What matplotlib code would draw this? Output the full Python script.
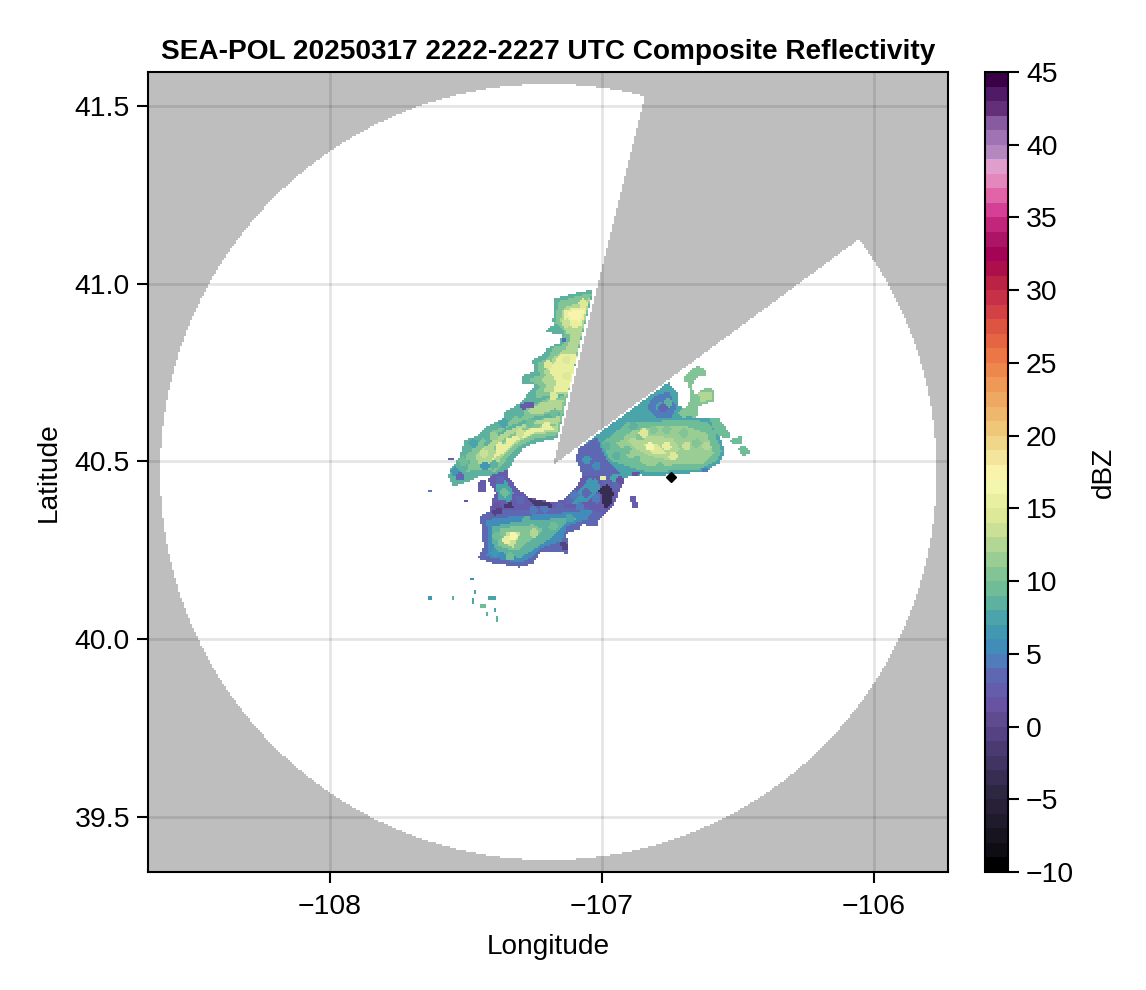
import numpy as np
import matplotlib
matplotlib.use('Agg')
import matplotlib.pyplot as plt
from matplotlib.colors import LinearSegmentedColormap, ListedColormap, Normalize
from matplotlib.path import Path

plt.rcParams['font.family'] = ['Liberation Sans', 'DejaVu Sans']

# axis limits and ticks
lon_lim = [-108.669, -105.728]
lat_lim = [39.344, 41.596]
lon_ticks = [-108, -107, -106]
lat_ticks = [39.5, 40.0, 40.5, 41.0, 41.5]
dbz_ticks = [-10, -5, 0, 5, 10, 15, 20, 25, 30, 35, 40, 45]

# radar coverage: disc minus the blocked sector
disc_lon, disc_lat = -107.197, 40.470
disc_rlon, disc_rlat = 1.427, 1.092
blocked = [(-107.180, 40.490), (-106.8125, 41.616), (-105.70, 41.62), (-105.835, 41.250)]
site_lon, site_lat = -106.746, 40.456

# colour scale (dBZ, colour)
scale_dbz = [-10, -9, -7, -5, -3, -1, 0, 1.5, 3, 4.5, 5.5, 7, 8, 9.5, 11, 12.5, 14, 15.5, 17, 18, 19, 20,
             22, 24, 26, 28, 29.5, 31, 32.5, 34, 35, 36, 37, 38, 39, 40, 41, 42, 43, 44, 45]
scale_col = ['#000000', '#0e0d14', '#1f1a2b', '#2d2640', '#3f3360', '#524080', '#5d4a8c', '#6a55a8', '#6264b0',
             '#4c80bd', '#3f8fb8', '#459fae', '#58aea0', '#70bd97', '#8fc994', '#b4d894', '#d8e597', '#e8ef9f',
             '#fbf9b6', '#f6eca3', '#f1de93', '#efd080', '#edb067', '#ee9452', '#ea6f43', '#da4f40', '#c83448',
             '#b81f44', '#a0004f', '#b0176a', '#c62a7e', '#d8439a', '#e46aaa', '#e48bbf', '#dfa0cf', '#b086bd',
             '#9f72b3', '#875aa0', '#642c78', '#4f1a66', '#3a0048']

# echo outlines, lon/lat
north_edge = [(-107.032, 40.983), (-107.093, 40.975), (-107.173, 40.959), (-107.181, 40.898), (-107.179, 40.884),
              (-107.210, 40.866), (-107.148, 40.856), (-107.154, 40.833), (-107.203, 40.819), (-107.216, 40.800),
              (-107.259, 40.786), (-107.246, 40.753), (-107.289, 40.744), (-107.295, 40.720), (-107.246, 40.716),
              (-107.301, 40.664), (-107.357, 40.640), (-107.363, 40.622), (-107.424, 40.598), (-107.461, 40.570),
              (-107.504, 40.561), (-107.522, 40.514), (-107.559, 40.476), (-107.565, 40.458), (-107.546, 40.429),
              (-107.485, 40.444), (-107.442, 40.462), (-107.406, 40.458), (-107.348, 40.470),
              (-107.320, 40.509), (-107.289, 40.537), (-107.240, 40.553), (-107.164, 40.565)]
north_mid = [(-107.038, 40.973), (-107.087, 40.966), (-107.161, 40.950), (-107.173, 40.889), (-107.142, 40.870),
             (-107.136, 40.833), (-107.185, 40.809), (-107.197, 40.791), (-107.240, 40.776), (-107.228, 40.744),
             (-107.271, 40.730), (-107.228, 40.711), (-107.252, 40.669), (-107.301, 40.640), (-107.363, 40.598),
             (-107.418, 40.580), (-107.473, 40.542), (-107.485, 40.504), (-107.497, 40.472), (-107.442, 40.476),
             (-107.393, 40.472), (-107.357, 40.500), (-107.326, 40.528), (-107.295, 40.547), (-107.246, 40.563),
             (-107.161, 40.575)]
north_upper = [(-107.044, 40.959), (-107.142, 40.931), (-107.154, 40.894), (-107.118, 40.847), (-107.130, 40.819),
               (-107.179, 40.791), (-107.216, 40.753), (-107.191, 40.730), (-107.216, 40.697), (-107.130, 40.683)]
north_arc = [(-107.154, 40.631), (-107.252, 40.612), (-107.350, 40.589), (-107.424, 40.551), (-107.467, 40.514),
             (-107.448, 40.486), (-107.393, 40.486), (-107.357, 40.523), (-107.314, 40.551), (-107.252, 40.575),
             (-107.164, 40.584)]
north_stripe = [(-107.142, 40.673), (-107.216, 40.669), (-107.277, 40.640), (-107.246, 40.631), (-107.148, 40.645)]
north_core1 = [(-107.056, 40.936), (-107.136, 40.927), (-107.142, 40.903), (-107.105, 40.875), (-107.075, 40.880)]
north_core2 = [(-107.093, 40.805), (-107.154, 40.800), (-107.197, 40.758), (-107.167, 40.725), (-107.179, 40.697),
               (-107.124, 40.697), (-107.105, 40.748)]
north_core3 = [(-107.173, 40.591), (-107.252, 40.594), (-107.326, 40.570), (-107.387, 40.533), (-107.406, 40.504),
               (-107.363, 40.523), (-107.320, 40.556), (-107.246, 40.581)]
north_peak = [(-107.063, 40.927), (-107.124, 40.922), (-107.118, 40.898), (-107.081, 40.894)]
north_hole = [(-107.301, 40.662), (-107.252, 40.669), (-107.250, 40.653), (-107.295, 40.645)]
north_dot = [(-107.148, 40.850), (-107.136, 40.850), (-107.136, 40.837), (-107.148, 40.837)]
streak_a = [(-107.154, 40.638), (-107.252, 40.625), (-107.350, 40.596), (-107.436, 40.551), (-107.430, 40.542),
            (-107.348, 40.587), (-107.250, 40.615), (-107.154, 40.628)]
streak_b = [(-107.167, 40.608), (-107.265, 40.603), (-107.338, 40.575), (-107.399, 40.537), (-107.393, 40.531),
            (-107.332, 40.568), (-107.259, 40.595), (-107.167, 40.600)]
streak_c = [(-107.136, 40.692), (-107.216, 40.683), (-107.277, 40.655), (-107.271, 40.647), (-107.213, 40.675),
            (-107.140, 40.683)]

band_edge = [(-107.418, 40.448), (-107.406, 40.462), (-107.348, 40.476), (-107.344, 40.458), (-107.314, 40.425),
             (-107.265, 40.397), (-107.179, 40.384), (-107.142, 40.392), (-107.093, 40.429), (-107.072, 40.458),
             (-107.007, 40.458), (-106.916, 40.444), (-106.944, 40.401), (-106.958, 40.373), (-107.001, 40.340),
             (-107.179, 40.354), (-107.418, 40.345), (-107.406, 40.383), (-107.393, 40.411)]
band_west = [(-107.393, 40.444), (-107.353, 40.448), (-107.326, 40.411), (-107.338, 40.387), (-107.381, 40.392)]
band_east = [(-107.081, 40.425), (-107.020, 40.453), (-107.007, 40.425), (-107.056, 40.387), (-107.130, 40.378)]
band_dark = [(-107.277, 40.397), (-107.179, 40.381), (-107.185, 40.371), (-107.246, 40.373)]
dark_east = [(-107.014, 40.420), (-106.977, 40.437), (-106.958, 40.411), (-106.968, 40.373), (-106.995, 40.368),
             (-106.998, 40.401)]
dark_west1 = [(-107.406, 40.364), (-107.369, 40.368), (-107.369, 40.354), (-107.399, 40.347)]
dark_west2 = [(-107.363, 40.381), (-107.332, 40.384), (-107.326, 40.371), (-107.357, 40.368)]
dark_south = [(-107.154, 40.270), (-107.130, 40.272), (-107.124, 40.247), (-107.148, 40.251)]
band_spot = [(-107.004, 40.461), (-106.988, 40.461), (-106.988, 40.450), (-107.004, 40.450)]

south_edge = [(-107.418, 40.359), (-107.448, 40.345), (-107.436, 40.261), (-107.455, 40.228), (-107.406, 40.214),
              (-107.301, 40.202), (-107.252, 40.214), (-107.228, 40.242), (-107.154, 40.247), (-107.124, 40.237),
              (-107.130, 40.298), (-107.087, 40.307), (-107.069, 40.322), (-107.020, 40.317), (-106.998, 40.354),
              (-107.056, 40.368), (-107.301, 40.364)]
south_a = [(-107.424, 40.336), (-107.418, 40.261), (-107.424, 40.232), (-107.301, 40.214), (-107.252, 40.232),
           (-107.228, 40.256), (-107.148, 40.275), (-107.130, 40.317), (-107.056, 40.336), (-107.032, 40.364),
           (-107.154, 40.354), (-107.301, 40.347)]
south_b = [(-107.406, 40.317), (-107.399, 40.251), (-107.301, 40.228), (-107.252, 40.251), (-107.179, 40.289),
           (-107.142, 40.322), (-107.081, 40.343), (-107.154, 40.340), (-107.301, 40.331)]
south_c = [(-107.375, 40.312), (-107.381, 40.261), (-107.314, 40.247), (-107.277, 40.270), (-107.216, 40.307),
           (-107.252, 40.322), (-107.314, 40.317)]
south_d = [(-107.348, 40.303), (-107.357, 40.270), (-107.326, 40.256), (-107.308, 40.284), (-107.295, 40.298)]

east_edge = [(-107.091, 40.534), (-106.756, 40.723), (-106.720, 40.692), (-106.720, 40.655), (-106.664, 40.647),
             (-106.662, 40.625), (-106.603, 40.622), (-106.579, 40.598), (-106.548, 40.528), (-106.566, 40.495),
             (-106.628, 40.469), (-106.738, 40.465), (-106.811, 40.456), (-106.860, 40.462), (-106.903, 40.456),
             (-106.946, 40.439), (-107.007, 40.458), (-107.069, 40.458), (-107.093, 40.500)]
east_west = [(-107.091, 40.534), (-107.020, 40.568), (-106.983, 40.504), (-106.934, 40.467), (-106.983, 40.458),
             (-107.069, 40.458), (-107.093, 40.500)]
east_a = [(-107.001, 40.551), (-106.909, 40.608), (-106.811, 40.612), (-106.701, 40.617), (-106.615, 40.612),
          (-106.591, 40.589), (-106.560, 40.528), (-106.579, 40.500), (-106.640, 40.478), (-106.738, 40.474),
          (-106.824, 40.469), (-106.885, 40.481), (-106.971, 40.504)]
east_b = [(-106.946, 40.551), (-106.885, 40.589), (-106.787, 40.598), (-106.689, 40.598), (-106.615, 40.580),
          (-106.591, 40.523), (-106.628, 40.495), (-106.738, 40.490), (-106.824, 40.486), (-106.909, 40.514)]
east_c = [(-106.909, 40.561), (-106.836, 40.575), (-106.738, 40.565), (-106.713, 40.533), (-106.750, 40.504),
          (-106.824, 40.514), (-106.873, 40.533)]
east_d = [(-106.848, 40.551), (-106.799, 40.551), (-106.762, 40.523), (-106.811, 40.519)]
east_blue = [(-106.811, 40.683), (-106.756, 40.697), (-106.726, 40.655), (-106.750, 40.619), (-106.799, 40.622),
             (-106.836, 40.650)]
east_streak = [(-106.891, 40.467), (-106.860, 40.472), (-106.860, 40.462), (-106.891, 40.459)]
east_dot = [(-106.634, 40.483), (-106.613, 40.483), (-106.613, 40.469), (-106.634, 40.469)]

finger_a = [(-106.701, 40.739), (-106.652, 40.769), (-106.615, 40.758), (-106.615, 40.744), (-106.652, 40.737),
            (-106.671, 40.711), (-106.658, 40.687), (-106.615, 40.709), (-106.585, 40.701), (-106.585, 40.669),
            (-106.646, 40.656), (-106.652, 40.622), (-106.695, 40.631), (-106.689, 40.650), (-106.674, 40.683),
            (-106.683, 40.720), (-106.701, 40.725)]
finger_core = [(-106.646, 40.697), (-106.597, 40.697), (-106.597, 40.673), (-106.640, 40.666)]
finger_b = [(-106.603, 40.622), (-106.573, 40.625), (-106.524, 40.570), (-106.548, 40.565), (-106.585, 40.578)]
finger_c = [(-106.530, 40.561), (-106.487, 40.572), (-106.483, 40.550), (-106.524, 40.548)]
finger_d = [(-106.505, 40.537), (-106.475, 40.544), (-106.448, 40.519), (-106.483, 40.517)]

frag_east = [(-106.897, 40.401), (-106.873, 40.406), (-106.870, 40.368), (-106.891, 40.371)]
frag_west = [(-107.455, 40.444), (-107.430, 40.448), (-107.426, 40.415), (-107.458, 40.411)]
frag_w2 = [(-107.637, 40.422), (-107.625, 40.422), (-107.625, 40.415), (-107.637, 40.415)]
frag_w3 = [(-107.565, 40.509), (-107.546, 40.509), (-107.546, 40.504), (-107.565, 40.504)]
frag_w4 = [(-107.504, 40.392), (-107.494, 40.392), (-107.494, 40.385), (-107.504, 40.385)]

# small scattered echoes in the south west: lon0, lon1, lat0, lat1
specks = [(-107.638, -107.626, 40.111, 40.120), (-107.553, -107.546, 40.111, 40.122),
          (-107.482, -107.474, 40.164, 40.170), (-107.471, -107.464, 40.125, 40.139),
          (-107.477, -107.468, 40.101, 40.113), (-107.418, -107.391, 40.112, 40.120),
          (-107.446, -107.426, 40.087, 40.099), (-107.430, -107.417, 40.062, 40.078),
          (-107.399, -107.390, 40.076, 40.087), (-107.392, -107.380, 40.047, 40.062)]
speck_dbz = [6.5, 8.5, 5.5, 7, 7, 7, 9, 8, 7, 8]

# patches of stronger or weaker echo inside the outlines: lon, lat, dBZ
east_patches = [(-106.983, 40.542, 8), (-106.934, 40.570, 9), (-106.885, 40.598, 8), (-106.946, 40.514, 8),
                (-106.909, 40.533, 9), (-106.860, 40.570, 10), (-106.811, 40.589, 10), (-106.762, 40.589, 10),
                (-106.701, 40.580, 10), (-106.652, 40.551, 10), (-106.713, 40.504, 11), (-106.787, 40.486, 9),
                (-106.873, 40.504, 9.5), (-106.824, 40.542, 16), (-106.762, 40.542, 15.5), (-106.689, 40.542, 13.5),
                (-106.615, 40.542, 12), (-106.848, 40.580, 14), (-106.738, 40.514, 14), (-106.787, 40.655, 7),
                (-106.756, 40.664, 8), (-106.775, 40.650, 3), (-106.726, 40.673, 7), (-106.701, 40.636, 10),
                (-107.056, 40.504, 6), (-107.063, 40.476, 3.5), (-107.020, 40.486, 5.5)]
north_patches = [(-107.069, 40.945, 14), (-107.130, 40.889, 13), (-107.093, 40.856, 12), (-107.130, 40.847, 9.5),
                 (-107.167, 40.814, 10), (-107.197, 40.772, 14), (-107.130, 40.786, 14), (-107.093, 40.786, 15),
                 (-107.203, 40.730, 12), (-107.130, 40.739, 14), (-107.179, 40.683, 14), (-107.228, 40.692, 10),
                 (-107.252, 40.673, 8), (-107.301, 40.636, 8), (-107.363, 40.608, 7), (-107.424, 40.570, 8),
                 (-107.473, 40.551, 7), (-107.485, 40.514, 10), (-107.510, 40.500, 9), (-107.540, 40.472, 6),
                 (-107.522, 40.458, 4), (-107.399, 40.570, 11), (-107.436, 40.523, 13), (-107.375, 40.542, 15),
                 (-107.338, 40.556, 15), (-107.301, 40.580, 13), (-107.203, 40.598, 15), (-107.265, 40.608, 9),
                 (-107.179, 40.636, 9.5), (-107.179, 40.659, 12), (-107.400, 40.490, 8), (-107.430, 40.486, 6)]
south_patches = [(-107.387, 40.289, 9), (-107.252, 40.298, 12), (-107.179, 40.317, 9.5), (-107.118, 40.340, 7),
                 (-107.338, 40.232, 9.5), (-107.277, 40.336, 8), (-107.350, 40.279, 15.5), (-107.326, 40.289, 16),
                 (-107.216, 40.289, 8), (-107.393, 40.242, 6)]
band_patches = [(-107.056, 40.411, 4), (-107.118, 40.392, 3), (-107.044, 40.439, 6), (-106.983, 40.448, 3.5),
                (-106.934, 40.444, 1), (-107.301, 40.392, 3), (-107.375, 40.448, 4), (-107.357, 40.411, 9),
                (-107.252, 40.364, 5), (-107.154, 40.373, 3.5), (-107.081, 40.373, 4.5), (-107.387, 40.373, 1),
                (-107.210, 40.366, 4.5), (-107.100, 40.405, 5), (-107.020, 40.395, 4.5), (-106.950, 40.430, 3.5)]

# painted in this order, later ones on top
base_layers = [(8, north_edge), (10.5, north_mid), (12.5, north_upper), (12.5, north_arc), (12.5, north_stripe),
               (15, north_core1), (15, north_core2), (15, north_core3), (17, north_peak),
               (8, streak_a), (10, streak_b), (8, streak_c),
               (2.5, band_edge), (7, band_west), (6, band_east),
               (3.5, south_edge), (5.5, south_a), (8, south_b), (10.5, south_c), (13, south_d),
               (7, east_edge), (4, east_west), (9.5, east_a), (11, east_b), (12.5, east_c), (14.5, east_d),
               (5, east_blue),
               (10, finger_a), (12.5, finger_core), (9.5, finger_b), (9, finger_c), (9, finger_d),
               (2.5, frag_east), (2, frag_west), (4.5, frag_w2), (2, frag_w3), (1, frag_w4)]
top_layers = [(2, north_hole), (4, north_dot), (-2, band_dark), (-3, dark_east), (-1, dark_west1), (-2, dark_west2),
              (15, band_spot), (-1, dark_south), (1, east_streak), (5, east_dot)]

# radar grid
n_cells = 400
lon_edges = np.linspace(lon_lim[0], lon_lim[1], n_cells + 1)
lat_edges = np.linspace(lat_lim[0], lat_lim[1], n_cells + 1)
lon_mid = 0.5 * (lon_edges[:-1] + lon_edges[1:])
lat_mid = 0.5 * (lat_edges[:-1] + lat_edges[1:])
LON, LAT = np.meshgrid(lon_mid, lat_mid)
points = np.column_stack([LON.ravel(), LAT.ravel()])

inside = ((LON - disc_lon) / disc_rlon)**2 + ((LAT - disc_lat) / disc_rlat)**2 <= 1
sector = Path(blocked).contains_points(points).reshape(LON.shape)
coverage = np.ma.masked_where(~(inside & ~sector), np.ones(LON.shape))


def paint(field, layers):
    for value, outline in layers:
        field[Path(outline).contains_points(points).reshape(LON.shape)] = value


dbz = np.full(LON.shape, np.nan)
paint(dbz, base_layers)
for lon, lat, value in east_patches + north_patches + south_patches + band_patches:
    blob = ((LON - lon) / 0.016)**2 + ((LAT - lat) / 0.0125)**2 <= 1
    dbz[blob & np.isfinite(dbz)] = value
paint(dbz, top_layers)
for (lon0, lon1, lat0, lat1), value in zip(specks, speck_dbz):
    dbz[(LON >= lon0) & (LON <= lon1) & (LAT >= lat0) & (LAT <= lat1)] = value
dbz = np.ma.masked_invalid(dbz)

positions = [(d + 10) / 55 for d in scale_dbz]
cmap = LinearSegmentedColormap.from_list('refl', list(zip(positions, scale_col)), N=55)
norm = Normalize(-10, 45)

fig = plt.figure(figsize=(11.46, 9.90), dpi=100)
ax = fig.add_axes([148 / 1146, 118 / 990, 800 / 1146, 800 / 990])
cax = fig.add_axes([985 / 1146, 118 / 990, 23 / 1146, 800 / 990])

ax.set_facecolor('#bebebe')
ax.pcolormesh(lon_edges, lat_edges, coverage, cmap=ListedColormap(['white']), zorder=1)
ax.set_axisbelow('line')
ax.grid(True, color='black', alpha=0.1, linewidth=2)
mesh = ax.pcolormesh(lon_edges, lat_edges, dbz, cmap=cmap, norm=norm, zorder=3)
ax.plot([site_lon], [site_lat], marker='D', ms=5, color='black', linestyle='none', zorder=4)

ax.set_xlim(lon_lim)
ax.set_ylim(lat_lim)
ax.set_xticks(lon_ticks)
ax.set_yticks(lat_ticks)
ax.set_yticklabels(['%.1f' % v for v in lat_ticks])
ax.tick_params(labelsize=20.4, length=8, width=1.5, pad=5)
ax.tick_params(axis='x', pad=8)
ax.set_xlabel('Longitude', fontsize=20.2, labelpad=10)
ax.set_ylabel('Latitude', fontsize=20.2, labelpad=9)
ax.set_title('SEA-POL 20250317 2222-2227 UTC Composite Reflectivity', fontsize=20.2, fontweight='bold', pad=9.5)
for spine in ax.spines.values():
    spine.set_linewidth(1.5)

cbar = fig.colorbar(mesh, cax=cax, ticks=dbz_ticks)
cbar.ax.tick_params(labelsize=20.4, length=8, width=1.5, pad=5)
cbar.set_label('dBZ', fontsize=20.2, labelpad=12)
cbar.outline.set_linewidth(1.5)

fig.savefig('out.png', dpi=100)
